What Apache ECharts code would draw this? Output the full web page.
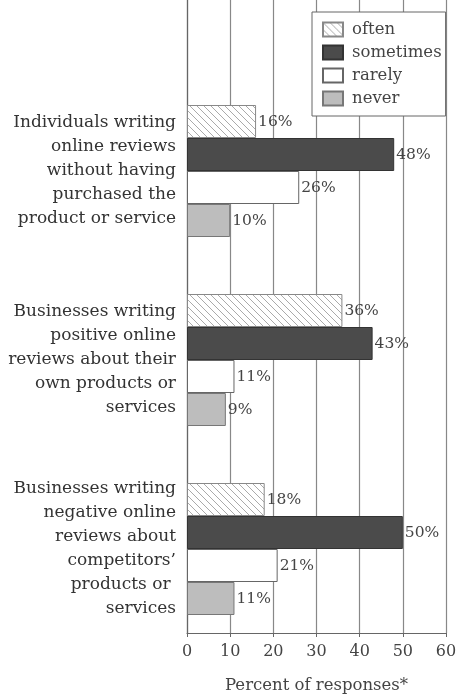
<!DOCTYPE html>
<html><head><meta charset="utf-8">
<script src="https://cdn.jsdelivr.net/npm/echarts@6/dist/echarts.min.js"></script>
<style>html,body{margin:0;padding:0;background:#fff}#c{width:458px;height:696px}</style>
</head><body><div id="c"></div>
<script>
var categories = [
  "Individuals writing\nonline reviews\nwithout having\npurchased the\nproduct or service",
  "Businesses writing\npositive online\nreviews about their\nown products or\nservices",
  "Businesses writing\nnegative online\nreviews about\ncompetitors\u2019\nproducts or \nservices"
];
var seriesNames = ["often", "sometimes", "rarely", "never"];
var often = [16, 36, 18];
var sometimes = [48, 43, 50];
var rarely = [26, 11, 21];
var never = [10, 9, 11];
var xTicks = [0, 10, 20, 30, 40, 50, 60];
var axisTitle = "Percent of responses*";

var FONT = "DejaVu Serif";
var pc = document.createElement('canvas');
pc.width = 7; pc.height = 7;
var g = pc.getContext('2d');
g.fillStyle = '#fff'; g.fillRect(0, 0, 7, 7);
g.strokeStyle = '#aaa'; g.lineWidth = 1;
g.beginPath();
g.moveTo(-1, -1); g.lineTo(8, 8);
g.moveTo(-1, 6); g.lineTo(1, 8);
g.moveTo(6, -1); g.lineTo(8, 1);
g.stroke();
var hatch = { image: pc, repeat: 'repeat' };

var styles = [
  { color: hatch, borderColor: '#888', borderWidth: 1 },
  { color: '#4b4b4b', borderColor: '#333', borderWidth: 1 },
  { color: '#ffffff', borderColor: '#666', borderWidth: 1 },
  { color: '#bdbdbd', borderColor: '#777', borderWidth: 1 }
];
var values = [often, sometimes, rarely, never];

var chart = echarts.init(document.getElementById('c'), null, { renderer: 'canvas' });
var series = seriesNames.map(function (n, i) {
  return {
    name: n, type: 'bar', xAxisIndex: 1, yAxisIndex: 1,
    data: values[i], barWidth: 33, barGap: '0%',
    itemStyle: styles[i],
    label: { show: true, position: 'right', distance: 2, formatter: '{c}%',
      fontFamily: FONT, fontSize: 15.5, color: '#444' },
    emphasis: { disabled: true }
  };
});
chart.setOption({
  animation: false,
  backgroundColor: '#fff',
  grid: [
    { left: 187, right: 12, top: 0, bottom: 63, outerBoundsMode: 'none', containLabel: false },
    { left: 187, right: 12, top: 76.5, height: 567, outerBoundsMode: 'none', containLabel: false }
  ],
  legend: {
    orient: 'vertical', left: 312, top: 12,
    padding: [9, 4, 9, 10], itemGap: 6,
    itemWidth: 20, itemHeight: 14, icon: 'rect',
    backgroundColor: '#fff', borderColor: '#666', borderWidth: 1,
    textStyle: { fontFamily: FONT, fontSize: 16.5, lineHeight: 16, color: '#444', padding: [0, 0, 0, 4] },
    data: seriesNames, z: 10
  },
  xAxis: [
    { type: 'value', gridIndex: 0, min: 0, max: 60, interval: 10,
      axisLine: { show: true, lineStyle: { color: '#666', width: 1.2 } },
      axisTick: { show: true, length: 4, lineStyle: { color: '#666' } },
      splitLine: { show: true, lineStyle: { color: '#888', width: 1.2 } },
      axisLabel: { fontFamily: FONT, fontSize: 16, color: '#444', margin: 11,
        formatter: function (v) { return xTicks.indexOf(v) >= 0 ? String(v) : ''; } },
      name: axisTitle, nameLocation: 'middle', nameGap: 44,
      nameTextStyle: { fontFamily: FONT, fontSize: 16.5, color: '#444' } },
    { type: 'value', gridIndex: 1, min: 0, max: 60, interval: 10, show: false }
  ],
  yAxis: [
    { type: 'value', gridIndex: 0, min: 0, max: 1,
      axisLine: { show: true, lineStyle: { color: '#666', width: 1.2 } },
      axisTick: { show: false }, axisLabel: { show: false }, splitLine: { show: false } },
    { type: 'category', gridIndex: 1, data: categories, inverse: true,
      axisLine: { show: false }, axisTick: { show: false }, splitLine: { show: false },
      axisLabel: { fontFamily: FONT, fontSize: 17, color: '#333', margin: 11,
        lineHeight: 24, align: 'right' } }
  ],
  series: series
});
</script></body></html>
